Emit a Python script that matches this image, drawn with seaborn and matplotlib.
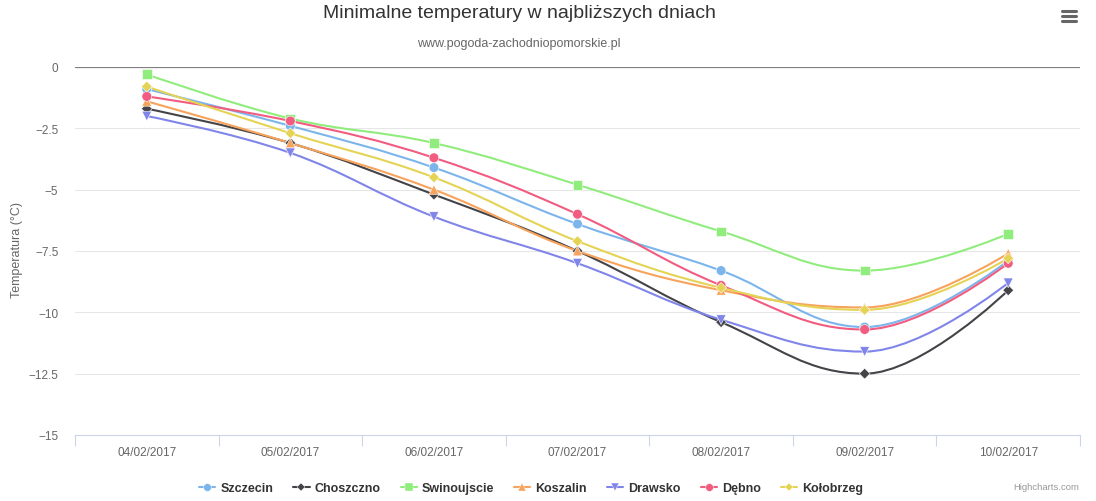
import pandas as pd
import seaborn as sns
import matplotlib.pyplot as plt
from matplotlib.path import Path
from matplotlib.patches import PathPatch
from matplotlib.lines import Line2D

# data
dates = ['04/02/2017', '05/02/2017', '06/02/2017', '07/02/2017',
         '08/02/2017', '09/02/2017', '10/02/2017']
cities = ['Szczecin', 'Choszczno', 'Swinoujscie', 'Koszalin', 'Drawsko', 'Dębno', 'Kołobrzeg']
szczecin = [-0.9, -2.4, -4.1, -6.4, -8.3, -10.6, -7.9]
choszczno = [-1.7, -3.1, -5.2, -7.5, -10.4, -12.5, -9.1]
swinoujscie = [-0.3, -2.1, -3.1, -4.8, -6.7, -8.3, -6.8]
koszalin = [-1.4, -3.1, -5.0, -7.5, -9.1, -9.8, -7.6]
drawsko = [-2.0, -3.5, -6.1, -8.0, -10.3, -11.6, -8.8]
debno = [-1.2, -2.2, -3.7, -6.0, -8.9, -10.7, -8.0]
kolobrzeg = [-0.8, -2.7, -4.5, -7.1, -9.0, -9.9, -7.8]
yticks = [0, -2.5, -5, -7.5, -10, -12.5, -15]

colors = ['#7cb5ec', '#434348', '#90ed7d', '#f7a35c', '#8085e9', '#f15c80', '#e4d354']
markers = ['o', 'D', 's', '^', 'v', 'o', 'D']
msizes = [7, 5.5, 7, 7, 7, 7, 5.5]

series = [szczecin, choszczno, swinoujscie, koszalin, drawsko, debno, kolobrzeg]
rows = []
for c, vals in zip(cities, series):
    for i, (d, v) in enumerate(zip(dates, vals)):
        rows.append({'city': c, 'date': d, 'pos': i, 'temp': v})
df = pd.DataFrame(rows)


def spline_path(xs, ys, smoothing=1.5):
    # highcharts-like spline control points
    n = len(xs)
    den = smoothing + 1
    lc = [(xs[i], ys[i]) for i in range(n)]
    rc = [(xs[i], ys[i]) for i in range(n)]
    for i in range(1, n - 1):
        lx, ly = xs[i - 1], ys[i - 1]
        px, py = xs[i], ys[i]
        nx, ny = xs[i + 1], ys[i + 1]
        lcx = (smoothing * px + lx) / den
        lcy = (smoothing * py + ly) / den
        rcx = (smoothing * px + nx) / den
        rcy = (smoothing * py + ny) / den
        if rcx != lcx:
            corr = ((rcy - lcy) * (rcx - px)) / (rcx - lcx) + py - rcy
            lcy += corr
            rcy += corr
        if lcy > ly and lcy > py:
            lcy = max(ly, py)
            rcy = 2 * py - lcy
        elif lcy < ly and lcy < py:
            lcy = min(ly, py)
            rcy = 2 * py - lcy
        if rcy > ny and rcy > py:
            rcy = max(ny, py)
            lcy = 2 * py - rcy
        elif rcy < ny and rcy < py:
            rcy = min(ny, py)
            lcy = 2 * py - rcy
        lc[i] = (lcx, lcy)
        rc[i] = (rcx, rcy)
    verts = [(xs[0], ys[0])]
    codes = [Path.MOVETO]
    for i in range(1, n):
        verts += [rc[i - 1], lc[i], (xs[i], ys[i])]
        codes += [Path.CURVE4] * 3
    return Path(verts, codes)


sns.set_style('white')
plt.rcParams['font.family'] = ['Liberation Sans', 'DejaVu Sans']

fig = plt.figure(figsize=(10.96, 5.02), dpi=100)
ax = fig.add_axes([75 / 1096, 66 / 502, 1005 / 1096, 368 / 502])

for y in yticks[1:-1]:
    ax.axhline(y, color='#e6e6e6', lw=0.75, zorder=0)
ax.axhline(0, color='#808080', lw=0.9, zorder=1)

for c, col in zip(cities, colors):
    sub = df[df.city == c]
    p = spline_path(list(sub.pos), list(sub.temp))
    ax.add_patch(PathPatch(p, fill=False, edgecolor=col, lw=1.5, zorder=2))

sns.scatterplot(data=df, x='pos', y='temp', hue='city', style='city',
                palette=dict(zip(cities, colors)),
                markers=dict(zip(cities, markers)),
                size='city', sizes=dict(zip(cities, [m ** 2 for m in msizes])),
                edgecolor='white', linewidth=0.4, legend=False, ax=ax, zorder=3)

ax.set_xlim(-0.5, 6.5)
ax.set_ylim(-15, 0)
ax.set_xticks(range(len(dates)))
ax.set_xticklabels(dates)
ax.set_xticks([i - 0.5 for i in range(len(dates) + 1)], minor=True)
ax.set_yticks(yticks)
ax.set_yticklabels([('−' + f'{abs(v):g}') if v < 0 else '0' for v in yticks])
ax.tick_params(axis='x', which='major', bottom=False, length=0, pad=8,
               labelsize=8.5, labelcolor='#666666')
ax.tick_params(axis='x', which='minor', bottom=True, length=8, width=0.8,
               color='#ccd6eb', direction='out')
ax.tick_params(axis='y', length=0, pad=12, labelsize=8.5, labelcolor='#666666')
ax.set_xlabel('')
ax.set_ylabel('')
for s in ['top', 'left', 'right']:
    ax.spines[s].set_visible(False)
ax.spines['bottom'].set_color('#ccd6eb')
ax.spines['bottom'].set_linewidth(0.8)

fig.text(519 / 1096, 1 - 14 / 502, 'Minimalne temperatury w najbliższych dniach',
         ha='center', va='center', fontsize=14, color='#333333')
fig.text(519 / 1096, 1 - 44 / 502, 'www.pogoda-zachodniopomorskie.pl',
         ha='center', va='center', fontsize=9, color='#666666')
fig.text(17 / 1096, 1 - 250 / 502, 'Temperatura (°C)', rotation=90,
         ha='center', va='center', fontsize=9, color='#666666')
fig.text(1079 / 1096, 1 - 488 / 502, 'Highcharts.com', ha='right', va='center',
         fontsize=6.8, color='#999999')

# menu icon
for yy in [12, 17, 22]:
    fig.add_artist(Line2D([1062 / 1096, 1076 / 1096], [1 - yy / 502] * 2,
                          color='#666666', lw=2.2, solid_capstyle='round'))

handles = [Line2D([0], [0], color=col, lw=1.5, marker=m, markersize=ms * 0.8,
                  markeredgecolor='white', markeredgewidth=0.3)
           for col, m, ms in zip(colors, markers, msizes)]
leg = fig.legend(handles, cities, loc='center', bbox_to_anchor=(531 / 1096, 1 - 489 / 502),
                 ncol=7, frameon=False, handlelength=1.3, handletextpad=0.4,
                 columnspacing=1.6, prop={'weight': 'bold', 'size': 9})
for t in leg.get_texts():
    t.set_color('#333333')

fig.savefig('out.png', dpi=100)
